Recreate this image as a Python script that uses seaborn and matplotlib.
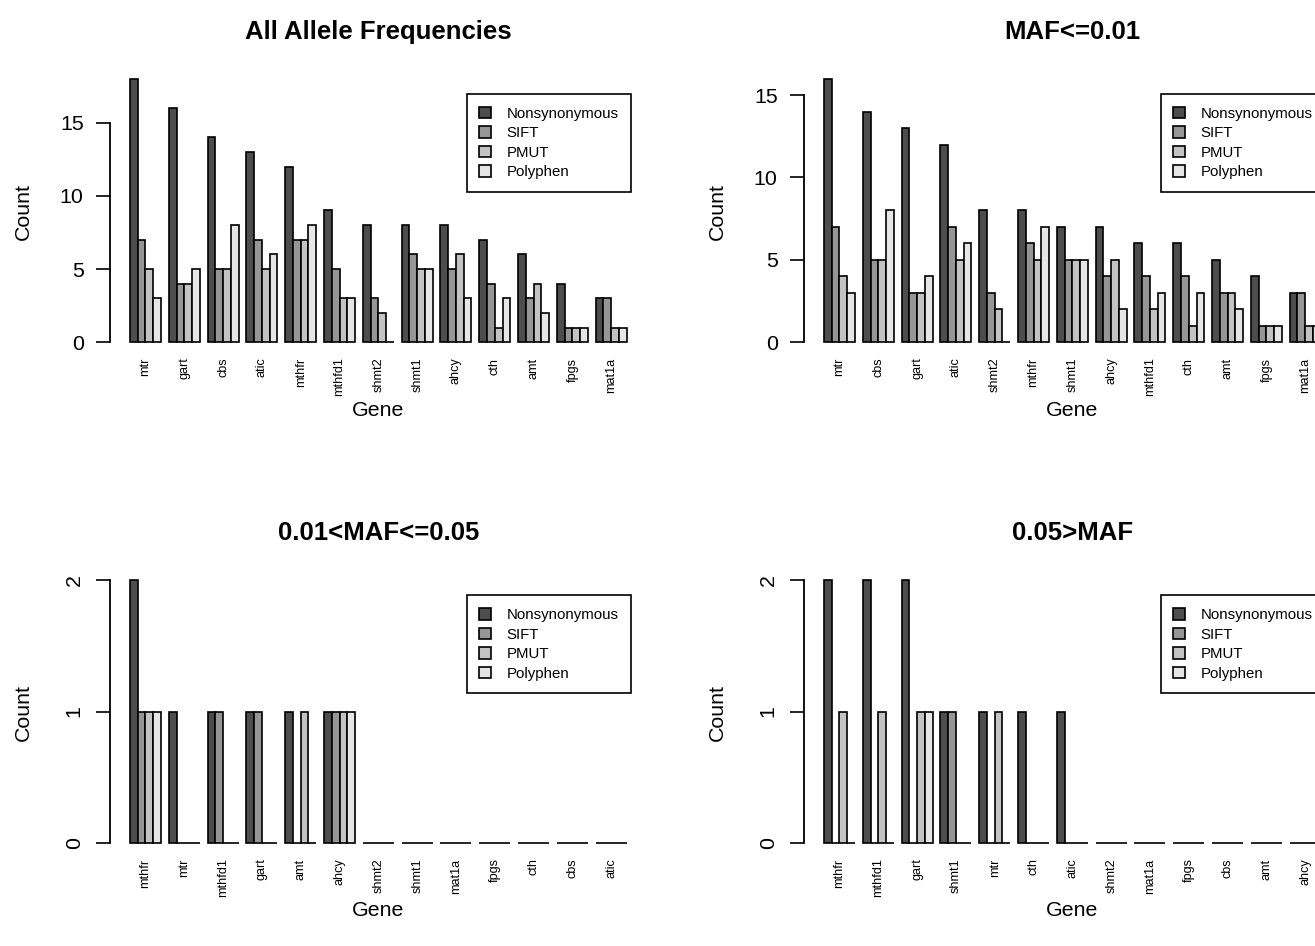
import numpy as np
import pandas as pd
import matplotlib
matplotlib.use("Agg")
import matplotlib.pyplot as plt
import seaborn as sns

# ---------------- data ----------------
types = ["Nonsynonymous", "SIFT", "PMUT", "Polyphen"]
colors = ["#4D4D4D", "#969696", "#C3C3C3", "#E6E6E6"]

title_all = "All Allele Frequencies"
genes_all = ["mtr", "gart", "cbs", "atic", "mthfr", "mthfd1", "shmt2", "shmt1",
             "ahcy", "cth", "amt", "fpgs", "mat1a"]
nonsyn_all = [18, 16, 14, 13, 12, 9, 8, 8, 8, 7, 6, 4, 3]
sift_all = [7, 4, 5, 7, 7, 5, 3, 6, 5, 4, 3, 1, 3]
pmut_all = [5, 4, 5, 5, 7, 3, 2, 5, 6, 1, 4, 1, 1]
poly_all = [3, 5, 8, 6, 8, 3, 0, 5, 3, 3, 2, 1, 1]

title_rare = "MAF<=0.01"
genes_rare = ["mtr", "cbs", "gart", "atic", "shmt2", "mthfr", "shmt1", "ahcy",
              "mthfd1", "cth", "amt", "fpgs", "mat1a"]
nonsyn_rare = [16, 14, 13, 12, 8, 8, 7, 7, 6, 6, 5, 4, 3]
sift_rare = [7, 5, 3, 7, 3, 6, 5, 4, 4, 4, 3, 1, 3]
pmut_rare = [4, 5, 3, 5, 2, 5, 5, 5, 2, 1, 3, 1, 1]
poly_rare = [3, 8, 4, 6, 0, 7, 5, 2, 3, 3, 2, 1, 1]

title_low = "0.01<MAF<=0.05"
genes_low = ["mthfr", "mtr", "mthfd1", "gart", "amt", "ahcy", "shmt2", "shmt1",
             "mat1a", "fpgs", "cth", "cbs", "atic"]
nonsyn_low = [2, 1, 1, 1, 1, 1, 0, 0, 0, 0, 0, 0, 0]
sift_low = [1, 0, 1, 1, 0, 1, 0, 0, 0, 0, 0, 0, 0]
pmut_low = [1, 0, 0, 0, 1, 1, 0, 0, 0, 0, 0, 0, 0]
poly_low = [1, 0, 0, 0, 0, 1, 0, 0, 0, 0, 0, 0, 0]

title_common = "0.05>MAF"
genes_common = ["mthfr", "mthfd1", "gart", "shmt1", "mtr", "cth", "atic", "shmt2",
                "mat1a", "fpgs", "cbs", "amt", "ahcy"]
nonsyn_common = [2, 2, 2, 1, 1, 1, 1, 0, 0, 0, 0, 0, 0]
sift_common = [0, 0, 0, 1, 0, 0, 0, 0, 0, 0, 0, 0, 0]
pmut_common = [1, 1, 1, 0, 1, 0, 0, 0, 0, 0, 0, 0, 0]
poly_common = [0, 0, 1, 0, 0, 0, 0, 0, 0, 0, 0, 0, 0]

yticks_top = [0, 5, 10, 15]
yticks_bottom = [0, 1, 2]

panels = [
    (title_all, genes_all, [nonsyn_all, sift_all, pmut_all, poly_all], yticks_top, 0),
    (title_rare, genes_rare, [nonsyn_rare, sift_rare, pmut_rare, poly_rare], yticks_top, 0),
    (title_low, genes_low, [nonsyn_low, sift_low, pmut_low, poly_low], yticks_bottom, 90),
    (title_common, genes_common, [nonsyn_common, sift_common, pmut_common, poly_common], yticks_bottom, 90),
]

# ---------------- style ----------------
sns.set_theme(style="white")
plt.rcParams["font.family"] = ["Liberation Sans", "DejaVu Sans"]
for key in ["text.color", "axes.labelcolor", "xtick.color", "ytick.color"]:
    plt.rcParams[key] = "black"

W, H = 1315, 946
fig = plt.figure(figsize=(W / 100, H / 100), dpi=100)
fig.patch.set_facecolor("white")

# pixel geometry of the plot regions (left, top, bottom), width
positions = [(110.1, 68.0, 355.5), (804.1, 68.0, 355.5),
             (110.1, 569.4, 856.3), (804.1, 569.4, 856.3)]
axw = 536.5

for (title, genes, series, yt, yrot), (left, top, bottom) in zip(panels, positions):
    ax = fig.add_axes([left / W, 1 - bottom / H, axw / W, (bottom - top) / H])
    rows = []
    for t, vals in zip(types, series):
        for g, v in zip(genes, vals):
            rows.append({"Gene": g, "Count": v, "Type": t})
    df = pd.DataFrame(rows)

    sns.barplot(data=df, x="Gene", y="Count", hue="Type", order=genes,
                hue_order=types, palette=colors, saturation=1,
                edgecolor="black", linewidth=1.2, width=0.8, gap=0,
                errorbar=None, ax=ax)

    n = len(genes)
    span = (n - 1) + 0.8
    ext = 0.04 * span
    ax.set_xlim(-0.4 - ext, n - 1 + 0.4 + ext)
    ymax = max(max(s) for s in series)
    lo = -0.01 * ymax
    rng = ymax - lo
    ax.set_ylim(lo - 0.04 * rng, ymax + 0.04 * rng)

    for side in ["top", "right", "bottom"]:
        ax.spines[side].set_visible(False)
    ax.spines["left"].set_color("black")
    ax.spines["left"].set_linewidth(1.3)
    ax.spines["left"].set_bounds(yt[0], yt[-1])
    ax.set_yticks(yt)
    ax.set_yticklabels([str(v) for v in yt])
    ax.tick_params(axis="y", direction="out", length=10, width=1.2,
                   color="black", labelcolor="black", pad=9,
                   labelsize=15.4, left=True)
    if yrot:
        for lab in ax.get_yticklabels():
            lab.set_rotation(90)
            lab.set_va("center")
            lab.set_ha("right")
    ax.tick_params(axis="x", length=0, labelrotation=90, labelsize=9.1,
                   pad=1.5, labelcolor="black")

    ax.set_title(title, fontsize=18.5, fontweight="bold", pad=21, color="black")
    ax.set_ylabel("Count", fontsize=15.4, va="center", color="black")
    ax.yaxis.set_label_coords(-0.1614, 0.5)
    ax.set_xlabel("Gene", fontsize=15.4, va="center", color="black")
    ax.xaxis.set_label_coords(0.5, -0.19)

    handles, labels = ax.get_legend_handles_labels()
    if ax.get_legend() is not None:
        ax.get_legend().remove()
    leg = ax.legend(handles, labels, loc="upper right",
                    bbox_to_anchor=(0.971, 0.9096), borderaxespad=0,
                    fontsize=10.8, frameon=True, fancybox=False,
                    edgecolor="black", framealpha=1, handlelength=0.8,
                    handleheight=0.8, handletextpad=1.0, labelspacing=0.37,
                    borderpad=0.85, labelcolor="black")
    leg.get_frame().set_linewidth(1.2)

fig.savefig("out.png", dpi=100, facecolor="white")
